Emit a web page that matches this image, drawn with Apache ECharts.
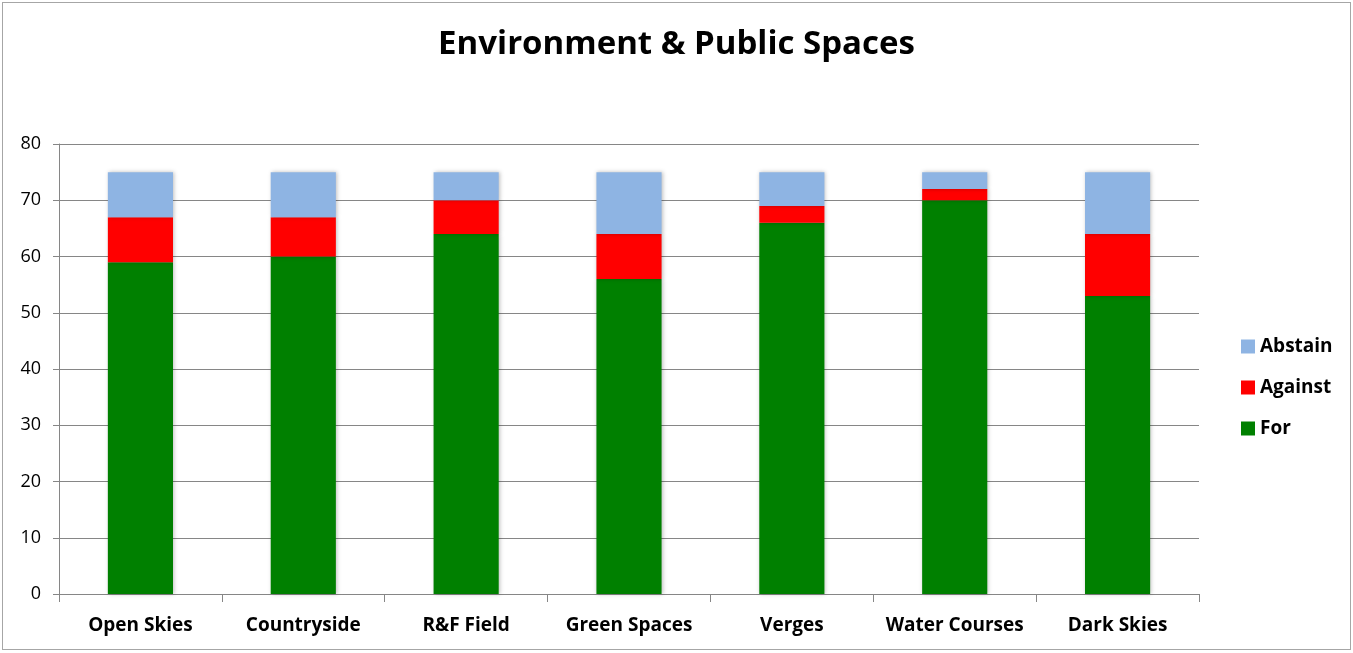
<!DOCTYPE html>
<html>
<head>
<meta charset="utf-8">
<script src="https://cdn.jsdelivr.net/npm/echarts@6/dist/echarts.min.js"></script>
<style>
    html, body { margin: 0; padding: 0; background: #fff; }
    #main { position: absolute; left: 2px; top: 2px; width: 1349px; height: 648px; border: 1px solid #a6a6a6; box-sizing: border-box; }
</style>
</head>
<body>
<div id="main"></div>
<script>
// categories and vote counts
var categories = ['Open Skies', 'Countryside', 'R&F Field', 'Green Spaces', 'Verges', 'Water Courses', 'Dark Skies'];
var forVotes = [59, 60, 64, 56, 66, 70, 53];
var againstVotes = [8, 7, 6, 8, 3, 2, 11];
var abstainVotes = [8, 8, 5, 11, 6, 3, 11];
var yTicks = [0, 10, 20, 30, 40, 50, 60, 70, 80];

var font = '"Open Sans", "Liberation Sans", sans-serif';
var chart = echarts.init(document.getElementById('main'));

var option = {
    animation: false,
    textStyle: { fontFamily: font },
    title: {
        text: 'Environment & Public Spaces',
        left: 'center',
        top: 20,
        textStyle: { fontSize: 33, fontWeight: 'bold', color: '#000', fontFamily: font }
    },
    legend: {
        orient: 'vertical',
        left: 1233,
        top: 329,
        itemGap: 22,
        itemWidth: 14,
        itemHeight: 14,
        icon: 'rect',
        data: ['Abstain', 'Against', 'For'],
        textStyle: { fontSize: 19, fontWeight: 'bold', color: '#000', fontFamily: font }
    },
    grid: { left: 56, right: 151, top: 141, bottom: 55, containLabel: false },
    xAxis: {
        type: 'category',
        data: categories,
        axisLine: { lineStyle: { color: '#868686', width: 1 } },
        axisTick: { show: true, interval: 0, length: 8, lineStyle: { color: '#868686' } },
        axisLabel: { interval: 0, fontSize: 19, fontWeight: 'bold', color: '#000', margin: 22 }
    },
    yAxis: {
        type: 'value',
        min: yTicks[0],
        max: yTicks[yTicks.length - 1],
        interval: 10,
        axisLine: { show: true, lineStyle: { color: '#868686' } },
        axisTick: { show: true, length: 6, inside: false, lineStyle: { color: '#868686' } },
        axisLabel: { fontSize: 18, color: '#000', margin: 18 },
        splitLine: { lineStyle: { color: '#868686', width: 1 } }
    },
    series: [
        {
            name: 'For', type: 'bar', stack: 'v', data: forVotes, barWidth: '40%',
            itemStyle: { color: '#008000', shadowBlur: 4, shadowColor: 'rgba(0,0,0,0.25)', shadowOffsetX: 1 }
        },
        {
            name: 'Against', type: 'bar', stack: 'v', data: againstVotes,
            itemStyle: { color: '#ff0000', shadowBlur: 4, shadowColor: 'rgba(0,0,0,0.25)', shadowOffsetX: 1 }
        },
        {
            name: 'Abstain', type: 'bar', stack: 'v', data: abstainVotes,
            itemStyle: { color: '#8eb4e3', shadowBlur: 4, shadowColor: 'rgba(0,0,0,0.25)', shadowOffsetX: 1 }
        }
    ]
};

chart.setOption(option);
</script>
</body>
</html>
